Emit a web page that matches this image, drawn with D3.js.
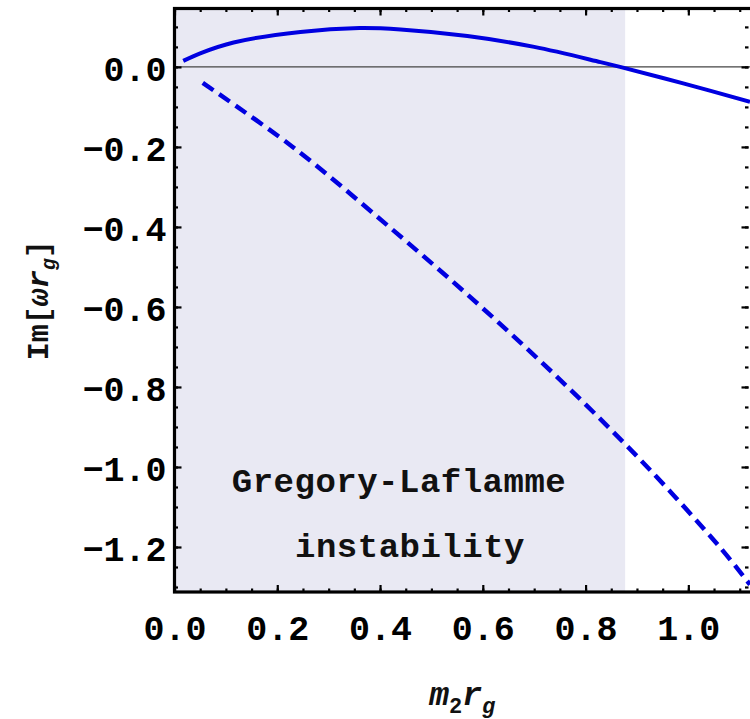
<!DOCTYPE html>
<html>
<head>
<meta charset="utf-8">
<script src="https://cdn.jsdelivr.net/npm/d3@7"></script>
<style>
	body { margin: 0; background: #fff; }
	svg { display: block; }
</style>
</head>
<body>
<script>
// tick labels
const xTicks = [0, 0.2, 0.4, 0.6, 0.8, 1.0];
const yTicks = [0, -0.2, -0.4, -0.6, -0.8, -1.0, -1.2];

// solid curve (unstable branch)
const solidX = [0.017, 0.05, 0.115, 0.245, 0.36, 0.44, 0.57, 0.70, 0.829, 0.867, 0.99, 1.12];
const solidY = [0.015, 0.034, 0.061, 0.0875, 0.097, 0.0935, 0.077, 0.05, 0.012, 0, -0.041, -0.087];

// dashed curve
const dashedX = [0.055, 0.230, 0.418, 0.597, 0.765, 0.920, 1.061, 1.12];
const dashedY = [-0.04, -0.2, -0.4, -0.6, -0.8, -1.0, -1.2, -1.294];

// shaded region end, axis ranges
const glEdge = 0.877;
const xDomain = [0, 1.12];
const yDomain = [-1.3125, 0.146];

const w = 750, h = 719,
	  pLeft = 174.5, pRight = 750, pTop = 8.5, pBottom = 592,
	  xScale = d3.scaleLinear().domain(xDomain).range([pLeft, pRight]),
	  yScale = d3.scaleLinear().domain(yDomain).range([pBottom, pTop]),
	  svg = d3.select("body").append("svg")
			  .attr("width", w)
			  .attr("height", h),
	  fontMono = "'Liberation Mono', 'DejaVu Sans Mono', monospace";

svg.append("defs").append("clipPath")
   .attr("id", "plotClip")
   .append("rect")
   .attr("x", pLeft).attr("y", pTop)
   .attr("width", pRight - pLeft).attr("height", pBottom - pTop);

// shaded instability band
svg.append("rect")
   .attr("x", xScale(0))
   .attr("y", pTop)
   .attr("width", xScale(glEdge) - xScale(0))
   .attr("height", pBottom - pTop)
   .attr("fill", "#e9e9f3");

// zero line
svg.append("line")
   .attr("x1", pLeft).attr("x2", pRight)
   .attr("y1", yScale(0)).attr("y2", yScale(0))
   .attr("stroke", "#444")
   .attr("stroke-width", 1.3);

const plot = svg.append("g").attr("clip-path", "url(#plotClip)");
const line = d3.line()
			   .x(d => xScale(d[0]))
			   .y(d => yScale(d[1]))
			   .curve(d3.curveCatmullRom.alpha(0.5));

plot.append("path")
	.datum(solidX.map((x, i) => [x, solidY[i]]))
	.attr("d", line)
	.attr("fill", "none")
	.attr("stroke", "#0000e0")
	.attr("stroke-width", 4);

plot.append("path")
	.datum(dashedX.map((x, i) => [x, dashedY[i]]))
	.attr("d", line)
	.attr("fill", "none")
	.attr("stroke", "#0000e0")
	.attr("stroke-width", 4.5)
	.attr("stroke-dasharray", "13,7");

// axes: major + minor ticks on all four sides, pointing inward
const xMinor = d3.range(0, 1.12, 0.05),
	  yMinor = d3.range(-1.3, 0.146, 0.05);

const styleAxis = g => {
	g.select(".domain").remove();
	g.selectAll(".tick line").attr("stroke", "#000").attr("stroke-width", 2.2);
	g.selectAll("text")
	 .style("font-family", fontMono)
	 .style("font-weight", "bold")
	 .style("font-size", "35px")
	 .attr("fill", "#000");
};

svg.append("g")
   .attr("transform", "translate(0," + pBottom + ")")
   .call(d3.axisBottom(xScale).tickValues(xTicks).tickSize(-7).tickPadding(23).tickFormat(d3.format(".1f")))
   .call(styleAxis);
svg.append("g")
   .attr("transform", "translate(0," + pBottom + ")")
   .call(d3.axisBottom(xScale).tickValues(xMinor).tickSize(-3.5).tickFormat(""))
   .call(styleAxis);
svg.append("g")
   .attr("transform", "translate(0," + pTop + ")")
   .call(d3.axisTop(xScale).tickValues(xTicks).tickSize(-7).tickFormat(""))
   .call(styleAxis);
svg.append("g")
   .attr("transform", "translate(0," + pTop + ")")
   .call(d3.axisTop(xScale).tickValues(xMinor).tickSize(-3.5).tickFormat(""))
   .call(styleAxis);

const yAxisG = svg.append("g")
   .attr("transform", "translate(" + pLeft + ",0)")
   .call(d3.axisLeft(yScale).tickValues(yTicks).tickSize(-7).tickPadding(8).tickFormat(d3.format(".1f")))
   .call(styleAxis);
yAxisG.selectAll("text").attr("dy", "0.38em");
svg.append("g")
   .attr("transform", "translate(" + pLeft + ",0)")
   .call(d3.axisLeft(yScale).tickValues(yMinor).tickSize(-3.5).tickFormat(""))
   .call(styleAxis);
svg.append("g")
   .attr("transform", "translate(" + (pRight - 1.5) + ",0)")
   .call(d3.axisRight(yScale).tickValues(yTicks).tickSize(-7).tickFormat(""))
   .call(styleAxis);
svg.append("g")
   .attr("transform", "translate(" + (pRight - 1.5) + ",0)")
   .call(d3.axisRight(yScale).tickValues(yMinor).tickSize(-3.5).tickFormat(""))
   .call(styleAxis);

// frame
svg.append("rect")
   .attr("x", pLeft).attr("y", pTop)
   .attr("width", pRight + 3 - pLeft).attr("height", pBottom - pTop)
   .attr("fill", "none")
   .attr("stroke", "#000")
   .attr("stroke-width", 3.2);

// annotation
const note = svg.append("g")
				.style("font-family", fontMono)
				.style("font-weight", "bold")
				.style("font-size", "34px")
				.attr("fill", "#111");
note.append("text")
	.attr("x", 399).attr("y", 492)
	.attr("text-anchor", "middle")
	.attr("letter-spacing", 0.5)
	.text("Gregory-Laflamme");
note.append("text")
	.attr("x", 410).attr("y", 557)
	.attr("text-anchor", "middle")
	.attr("letter-spacing", 0.5)
	.text("instability");

// x axis label
const xLab = svg.append("text")
				.attr("x", (pLeft + pRight) / 2)
				.attr("y", 705)
				.attr("text-anchor", "middle")
				.style("font-family", fontMono)
				.style("font-weight", "bold")
				.style("font-style", "italic")
				.style("font-size", "33px")
				.attr("fill", "#111");
xLab.append("tspan").text("m");
xLab.append("tspan").attr("dy", 8).style("font-size", "22px").style("font-style", "normal").text("2");
xLab.append("tspan").attr("dy", -8).text("r");
xLab.append("tspan").attr("dy", 8).style("font-size", "22px").text("g");

// y axis label
const yLab = svg.append("text")
				.attr("transform", "translate(48," + ((pTop + pBottom) / 2) + ") rotate(-90)")
				.attr("text-anchor", "middle")
				.style("font-family", fontMono)
				.style("font-weight", "bold")
				.style("font-size", "30px")
				.attr("fill", "#111");
yLab.append("tspan").text("Im[");
yLab.append("tspan").style("font-style", "italic").text("ωr");
yLab.append("tspan").attr("dy", 7).style("font-style", "italic").style("font-size", "20px").text("g");
yLab.append("tspan").attr("dy", -7).text("]");
</script>
</body>
</html>
